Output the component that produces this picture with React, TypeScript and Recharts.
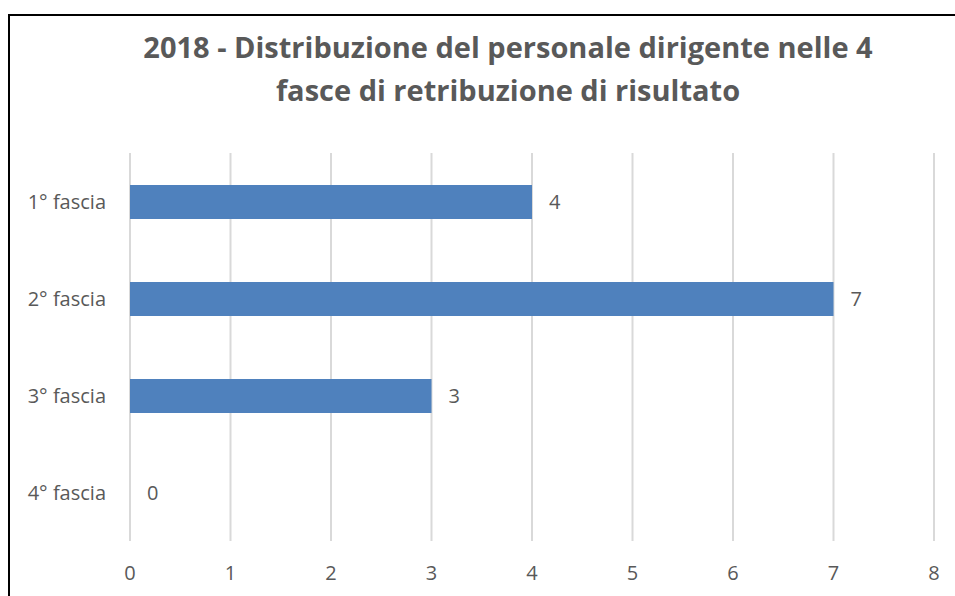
import { BarChart, Bar, CartesianGrid, LabelList, XAxis, YAxis } from "recharts";

const categories = ["1° fascia", "2° fascia", "3° fascia", "4° fascia"];
const dirigenti = [4, 7, 3, 0];
const xTicks = [0, 1, 2, 3, 4, 5, 6, 7, 8];

const data = categories.map((fascia, i) => ({ fascia, count: dirigenti[i] }));

const font = "'Open Sans', sans-serif";
const textColor = "#595959";

function ValueLabel(props: any) {
  const { x, y, width, height, value } = props;
  return (
    <text
      x={Number(x) + Number(width || 0) + 17}
      y={Number(y) + Number(height) / 2}
      dy="0.35em"
      fill={textColor}
      fontSize={20}
      fontFamily={font}
    >
      {value}
    </text>
  );
}

export default function App() {
  return (
    <div
      style={{
        position: "fixed",
        left: 0,
        top: 0,
        width: 955,
        height: 596,
        background: "#fff",
        overflow: "hidden",
        fontFamily: font,
      }}
    >
      <div
        style={{
          position: "absolute",
          left: 8,
          top: 14,
          width: 960,
          height: 600,
          borderLeft: "2px solid #000",
          borderTop: "2px solid #000",
        }}
      />
      <div
        style={{
          position: "absolute",
          left: 0,
          top: 25,
          width: 1016,
          textAlign: "center",
          fontSize: 29,
          fontWeight: 700,
          color: textColor,
          lineHeight: "43px",
        }}
      >
        2018 - Distribuzione del personale dirigente nelle 4
        <br />
        fasce di retribuzione di risultato
      </div>
      <div style={{ position: "absolute", left: 0, top: 0 }}>
        <BarChart
          layout="vertical"
          width={955}
          height={596}
          data={data}
          margin={{ top: 153, right: 21, bottom: 25, left: 20 }}
        >
          <CartesianGrid horizontal={false} stroke="#d9d9d9" strokeWidth={2} />
          <XAxis
            type="number"
            domain={[0, 8]}
            ticks={xTicks}
            axisLine={false}
            tickLine={false}
            height={30}
            tick={{ fill: textColor, fontSize: 20, fontFamily: font }}
            tickMargin={19}
          />
          <YAxis
            type="category"
            dataKey="fascia"
            width={110}
            axisLine={false}
            tickLine={false}
            tick={{ fill: textColor, fontSize: 20, fontFamily: font }}
            tickMargin={18}
          />
          <Bar
            dataKey="count"
            fill="#4f81bd"
            barSize={34}
            minPointSize={0.001}
            isAnimationActive={false}
          >
            <LabelList dataKey="count" content={ValueLabel} />
          </Bar>
        </BarChart>
      </div>
    </div>
  );
}
